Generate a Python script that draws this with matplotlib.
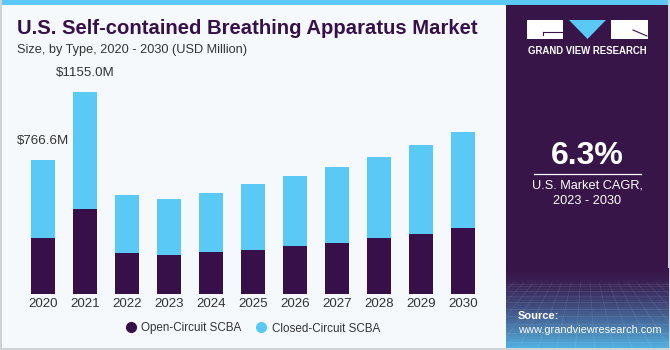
import numpy as np
import matplotlib
matplotlib.use("Agg")
import matplotlib.pyplot as plt
from matplotlib.patches import Rectangle, Polygon
from matplotlib.lines import Line2D

years = ["2020", "2021", "2022", "2023", "2024", "2025", "2026", "2027", "2028", "2029", "2030"]
open_circuit = [318.6, 482.8, 234.5, 221.4, 238.5, 251.7, 271.1, 291.7, 316.9, 343.2, 374.1]
closed_circuit = [448.0, 672.2, 330.1, 318.6, 339.2, 374.1, 400.4, 433.0, 466.7, 507.4, 549.1]
labels = {0: "$766.6M", 1: "$1155.0M"}
cagr_text = "6.3%"

DARK = "#37104a"
BLUE = "#5bc9f5"
BG = "#f5f9fc"
PANEL = "#381548"
TXT = "#333333"

plt.rcParams['font.family'] = ['Liberation Sans', 'DejaVu Sans']

W, H = 670, 350
fig = plt.figure(figsize=(6.7, 3.5), dpi=100)
fig.patch.set_facecolor(BG)

# full-figure overlay axes in pixel coords
bg = fig.add_axes([0, 0, 1, 1], zorder=0)
bg.axis("off")
bg.add_patch(Rectangle((0, 0), W, 4.5, color=BLUE, lw=0))
bg.add_patch(Rectangle((0, 0), 1.5, H, color="#cfd3d6", lw=0))
bg.add_patch(Rectangle((W - 2, 0), 2, H, color="#cfd3d6", lw=0))
bg.add_patch(Rectangle((0, H - 2), W, 2, color="#cfd3d6", lw=0))

# right panel
px0, px1, py0, py1 = 505.5, 668, 4.5, 348
bg.add_patch(Rectangle((px0, py0), px1 - px0, py1 - py0, color=PANEL, lw=0, zorder=1))
# bottom gradient
gy0 = 268
n = 60
grad = np.linspace(0, 1, n)[:, None]
c0 = np.array([0x38, 0x15, 0x48]) / 255
c1 = np.array([0x52, 0xb0, 0xe0]) / 255
g = grad[:, :, None] ** 1.4
img = c0[None, None, :] * (1 - g) + c1[None, None, :] * g
img = np.repeat(img, 2, axis=1)
bg.imshow(img, extent=(px0, px1, py1, gy0), aspect="auto", zorder=1.5, interpolation="bilinear")
# faint grid pattern
for k in range(22):
    xb = px0 - 120 + k * 19
    xt = px0 - 20 + k * 9.5
    bg.plot([xt, xb], [283, py1], color="white", alpha=0.10, lw=0.5, zorder=1.6)
for k in range(10):
    y = 284 + (k ** 1.45) * 2.4
    if y < py1:
        bg.plot([px0, px1], [y, y], color="white", alpha=0.10, lw=0.5, zorder=1.6)
bg.set_xlim(0, W)
bg.set_ylim(H, 0)

# logo
bg.add_patch(Rectangle((527, 20), 36, 19, color="white", lw=0, zorder=2))
bg.add_patch(Polygon([[569, 20], [606, 20], [587.5, 39]], closed=True, color=BLUE, lw=0, zorder=2))
bg.add_patch(Rectangle((610.5, 20), 37, 19, color="white", lw=0, zorder=2))
bg.plot([543, 563], [31.5, 31.5], color=PANEL, lw=0.8, zorder=3)
bg.plot([543, 543], [31.5, 35], color=PANEL, lw=0.8, zorder=3)
bg.plot([633, 647], [30, 36], color=PANEL, lw=0.8, zorder=3)
bg.text(587.5, 51.5, "GRAND VIEW RESEARCH", color="white", fontsize=6.9,
        fontweight="bold", ha="center", va="center", zorder=3)

bg.text(587.5, 156, cagr_text, color="white", fontsize=23, fontweight="bold", ha="center", va="center", zorder=3)
bg.plot([534, 641], [173.5, 173.5], color="white", lw=0.9, zorder=3)
bg.text(587.5, 186, "U.S. Market CAGR,", color="white", fontsize=9.2, ha="center", va="center", zorder=3)
bg.text(587.5, 201.5, "2023 - 2030", color="white", fontsize=9.2, ha="center", va="center", zorder=3)
bg.text(518, 316, "Source:", color="white", fontsize=8.0, fontweight="bold", ha="left", va="center", zorder=3)
bg.text(518, 330, "www.grandviewresearch.com", color="white", fontsize=7.9, ha="left", va="center", zorder=3)

# titles
bg.text(17, 28.5, "U.S. Self-contained Breathing Apparatus Market", color=DARK, fontsize=14.6,
        fontweight="heavy", ha="left", va="center", zorder=3)
bg.text(17, 49.5, "Size, by Type, 2020 - 2030 (USD Million)", color=TXT, fontsize=9.2,
        ha="left", va="center", zorder=3)

# main chart axes
ax = fig.add_axes([21.8 / W, 56.3 / H, 462 / W, 227.3 / H], zorder=2)
ax.set_facecolor("none")
x = np.arange(len(years))
ax.bar(x, open_circuit, width=0.58, color=DARK, lw=0)
ax.bar(x, closed_circuit, bottom=open_circuit, width=0.58, color=BLUE, lw=0)
ax.set_xlim(-0.5, len(years) - 0.5)
ax.set_ylim(0, 1300)
ax.set_yticks([])
ax.set_xticks(x)
ax.set_xticklabels(years, fontsize=9.6, color=TXT)
ax.tick_params(axis="x", length=0, pad=3)
for s in ax.spines.values():
    s.set_visible(False)

totals = [o + c for o, c in zip(open_circuit, closed_circuit)]
for i, t in labels.items():
    ax.annotate(t, (x[i], totals[i]), xytext=(0, 9), textcoords="offset points",
                ha="center", va="bottom", fontsize=9.6, color=TXT)

handles = [Line2D([], [], marker="o", ls="", color=DARK, markersize=7),
           Line2D([], [], marker="o", ls="", color=BLUE, markersize=7)]
fig.legend(handles, ["Open-Circuit SCBA", "Closed-Circuit SCBA"], loc="center",
           bbox_to_anchor=(252 / W, 1 - 328.5 / H), ncol=2, frameon=False, fontsize=8.4,
           handletextpad=0.3, columnspacing=1.1, labelcolor=TXT, handlelength=1.2)

fig.savefig("out.png", dpi=100, facecolor=fig.get_facecolor())
